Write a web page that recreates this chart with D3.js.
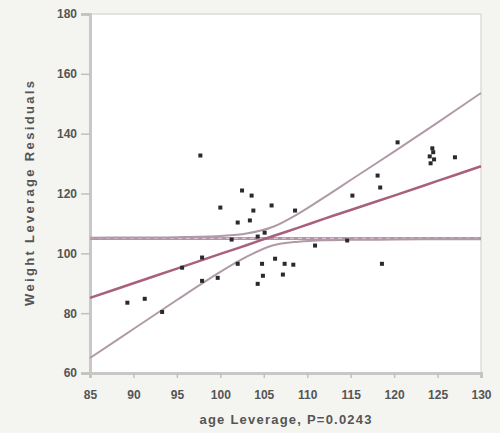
<!DOCTYPE html>
<html lang="en">
<head>
    <meta charset="UTF-8">
    <title>Leverage plot</title>
    <script src="https://cdn.jsdelivr.net/npm/d3@7"></script>
    <style>
        body { margin: 0; background: #f4f4f1; }
        svg { display: block; }
        text { font-family: "Liberation Sans", Arial, sans-serif; fill: #555; }
    </style>
</head>
<body>
<script>
    // leverage x values and residual y values
    const ageLev = [89.3, 91.3, 93.3, 97.7, 100.0, 102.5, 103.6, 103.8, 105.9, 108.6,
                    102.0, 103.4, 101.3, 104.3, 105.1, 97.9, 95.6, 102.0, 104.8, 106.3,
                    107.4, 108.4, 97.9, 99.7, 104.9, 107.2, 104.3, 110.9, 114.6, 115.2,
                    118.1, 118.4, 118.6, 120.4, 124.4, 124.5, 124.1, 124.6, 124.2, 127.0]
    const weightLev = [83.5, 84.8, 80.4, 132.7, 115.3, 121.0, 119.3, 114.3, 116.0, 114.3,
                       110.3, 111.0, 104.6, 105.6, 106.9, 98.6, 95.2, 96.5, 96.5, 98.2,
                       96.5, 96.2, 90.8, 91.8, 92.5, 92.9, 89.8, 102.6, 104.3, 119.3,
                       126.0, 122.0, 96.5, 137.1, 135.1, 133.8, 132.4, 131.4, 130.1, 132.1]

    // fit line and confidence curves, read at these x positions
    const curveX = [85, 90, 95, 100, 103, 106, 109, 112, 115, 120, 125, 130]
    const fitY   = [85.1, 90.0, 94.9, 99.8, 102.7, 105.7, 108.6, 111.6, 114.5, 119.3, 124.2, 129.1]
    const upperY = [105.2, 105.3, 105.4, 105.8, 106.6, 108.8, 113.3, 118.8, 124.5, 134.0, 143.7, 153.6]
    const lowerY = [65.0, 74.7, 84.4, 93.8, 98.8, 102.6, 103.9, 104.4, 104.5, 104.6, 104.7, 104.7]
    const meanY = 105

    const xTicks = [85, 90, 95, 100, 105, 110, 115, 120, 125, 130]
    const yTicks = [60, 80, 100, 120, 140, 160, 180]

    const width = 500, height = 433
    const margin = {top: 14, right: 19, bottom: 60, left: 90}

    const svg = d3.select("body").append("svg")
                    .attr("width", width).attr("height", height)

    const x = d3.scaleLinear().domain([85, 130]).range([margin.left, width - margin.right])
    const y = d3.scaleLinear().domain([60, 180]).range([height - margin.bottom, margin.top])

    //plot frame
    svg.append("rect")
        .attr("x", x(85)).attr("y", y(180))
        .attr("width", x(130) - x(85)).attr("height", y(60) - y(180))
        .attr("fill", "#fff").attr("stroke", "#dcdcdc").attr("stroke-width", 1.5)

    //axes
    const xAxis = svg.append("g")
        .attr("transform", `translate(0, ${y(60)})`)
        .call(d3.axisBottom(x).tickValues(xTicks).tickSize(5).tickPadding(12))
    const yAxis = svg.append("g")
        .attr("transform", `translate(${x(85)}, 0)`)
        .call(d3.axisLeft(y).tickValues(yTicks).tickSize(9).tickPadding(4))

    for (const a of [xAxis, yAxis]) {
        a.select(".domain").attr("stroke", "#c8c8c8").attr("stroke-width", 3)
        a.selectAll(".tick line").attr("stroke", "#c0c0c0").attr("stroke-width", 1.5)
        a.selectAll(".tick text").attr("font-size", 12).attr("fill", "#555").style("font-weight", "bold")
    }

    const line = d3.line().x((d, i) => x(curveX[i])).y(d => y(d)).curve(d3.curveCatmullRom)

    //mean line
    svg.append("line")
        .attr("x1", x(85)).attr("x2", x(130))
        .attr("y1", y(meanY)).attr("y2", y(meanY))
        .attr("stroke", "#a89aa8").attr("stroke-width", 3)
    svg.append("line")
        .attr("x1", x(85)).attr("x2", x(130))
        .attr("y1", y(meanY)).attr("y2", y(meanY))
        .attr("stroke", "#e7bfd2").attr("stroke-width", 1.2).attr("stroke-dasharray", "4 4")

    //confidence curves
    for (const c of [upperY, lowerY]) {
        svg.append("path").datum(c).attr("d", line)
            .attr("fill", "none").attr("stroke", "#b09aa8").attr("stroke-width", 2)
    }

    //fit line
    svg.append("path").datum(fitY).attr("d", line)
        .attr("fill", "none").attr("stroke", "#a8607e").attr("stroke-width", 2.5)

    //points
    svg.append("g").selectAll("rect").data(ageLev).enter().append("rect")
        .attr("x", (d) => x(d) - 2).attr("y", (d, i) => y(weightLev[i]) - 2)
        .attr("width", 4).attr("height", 4)
        .attr("fill", "#2a2a2e")

    //axis titles
    svg.append("text")
        .attr("x", (x(85) + x(130)) / 2).attr("y", 424)
        .attr("text-anchor", "middle").attr("font-size", 13).style("font-weight", "bold")
        .attr("textLength", 172).attr("lengthAdjust", "spacing")
        .text("age Leverage, P=0.0243")
    svg.append("text")
        .attr("transform", `translate(34, ${(y(60) + y(180)) / 2}) rotate(-90)`)
        .attr("text-anchor", "middle").attr("font-size", 13).style("font-weight", "bold")
        .attr("textLength", 225).attr("lengthAdjust", "spacing")
        .text("Weight Leverage Residuals")
</script>
</body>
</html>
